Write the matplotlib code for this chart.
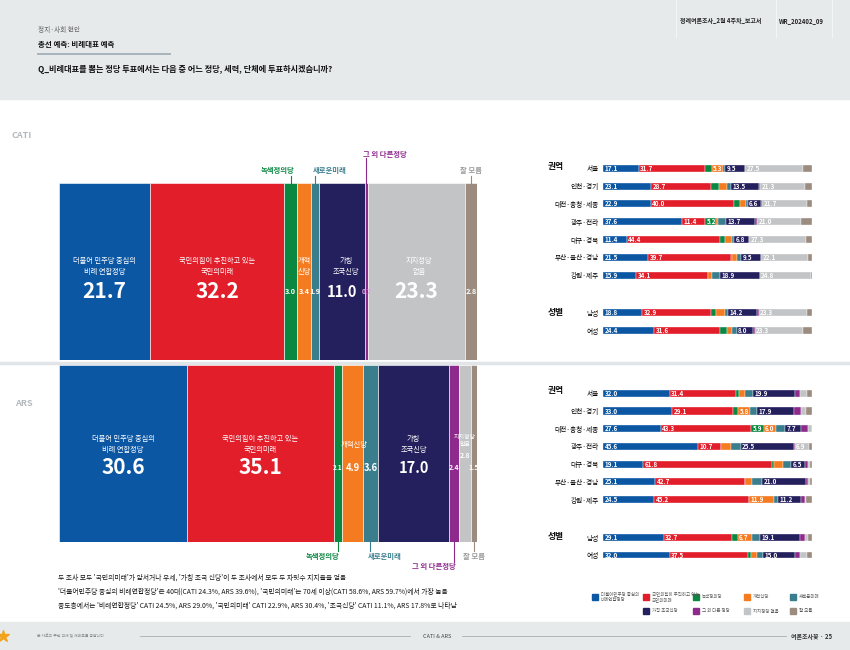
import matplotlib
matplotlib.use("Agg")
import matplotlib.pyplot as plt
import matplotlib.transforms as mtransforms
from matplotlib.patches import Rectangle
import numpy as np

plt.rcParams['font.family'] = ['Noto Sans CJK KR', 'DejaVu Sans']

# ---- data ----
parties = ["더불어민주당 중심의\n비례연합정당", "국민의힘이 추진하고 있는\n국민의미래", "녹색정의당", "개혁신당",
           "새로운미래", "가칭 조국신당", "그 외 다른 정당", "지지정당 없음", "잘 모름"]
colors = ["#0b57a4", "#e21e2b", "#0a8741", "#f47b20", "#3a7d8d", "#241f5d", "#8f2a8d", "#c2c4c6", "#9c8c7f"]

cati_total = [21.7, 32.2, 3.0, 3.4, 1.9, 11.0, 0.7, 23.3, 2.8]
ars_total = [30.6, 35.1, 2.1, 4.9, 3.6, 17.0, 2.4, 2.8, 1.5]

region_labels = ["서울", "인천·경기", "대전·충청·세종", "광주·전라", "대구·경북", "부산·울산·경남", "강원·제주"]
gender_labels = ["남성", "여성"]

cati_region = [
    [17.1, 31.7, 3.2, 5.3, 1.0, 9.5, 0.3, 27.5, 4.4],
    [23.1, 28.7, 3.8, 3.5, 2.0, 13.5, 0.7, 21.3, 3.4],
    [22.9, 40.0, 2.5, 3.0, 0.8, 6.6, 0.3, 21.7, 2.2],
    [37.6, 11.4, 5.2, 0.8, 4.0, 13.7, 1.1, 21.0, 5.2],
    [11.4, 44.4, 2.7, 3.3, 1.1, 6.8, 0.3, 27.3, 2.7],
    [21.5, 39.7, 0.3, 2.4, 2.1, 9.5, 0.3, 22.1, 2.1],
    [15.9, 34.1, 0.0, 2.0, 4.0, 18.9, 0.0, 24.8, 0.3],
]
cati_gender = [
    [18.8, 32.9, 2.5, 4.3, 1.2, 14.2, 0.6, 23.3, 2.2],
    [24.4, 31.6, 3.5, 2.1, 2.4, 8.0, 0.5, 23.3, 4.2],
]
ars_region = [
    [32.0, 31.4, 1.6, 2.9, 4.1, 19.9, 2.4, 3.5, 2.2],
    [33.0, 29.1, 2.6, 5.8, 3.0, 17.9, 3.5, 2.4, 2.7],
    [27.6, 43.3, 5.9, 6.0, 4.4, 7.7, 3.0, 2.1, 0.0],
    [45.6, 10.7, 0.3, 4.8, 4.4, 25.5, 0.4, 6.9, 1.4],
    [19.1, 61.8, 0.8, 4.2, 4.2, 6.5, 1.5, 0.8, 1.1],
    [25.1, 42.7, 0.2, 3.5, 4.5, 21.0, 1.2, 0.8, 1.0],
    [24.5, 45.2, 0.0, 11.9, 2.0, 11.2, 1.8, 0.5, 2.9],
]
ars_gender = [
    [29.1, 32.7, 2.6, 6.7, 3.9, 19.1, 2.4, 1.6, 1.9],
    [32.0, 37.5, 1.1, 2.9, 3.2, 15.0, 2.7, 3.4, 2.2],
]

notes = [
    "두 조사 모두 '국민의미래'가 앞서거나 우세, '가칭 조국 신당'이 두 조사에서 모두 두 자릿수 지지율을 얻음",
    "'더불어민주당 중심의 비례연합정당'은 40대(CATI 24.3%, ARS 39.6%), '국민의미래'는 70세 이상(CATI 58.6%, ARS 59.7%)에서 가장 높음",
    "중도층에서는 '비례연합정당' CATI 24.5%, ARS 29.0%, '국민의미래' CATI 22.9%, ARS 30.4%, '조국신당' CATI 11.1%, ARS 17.8%로 나타남",
]

W, H = 850, 650
fig = plt.figure(figsize=(W / 100, H / 100), dpi=100)
fig.patch.set_facecolor("white")

bg = fig.add_axes([0, 0, 1, 1])
bg.set_xlim(0, W)
bg.set_ylim(H, 0)
bg.axis("off")


def px_axes(x0, y0, x1, y1):
    return fig.add_axes([x0 / W, 1 - y1 / H, (x1 - x0) / W, (y1 - y0) / H])


# ---- header / footer decoration ----
bg.add_patch(Rectangle((0, 0), W, 99, color="#e7eaeb", zorder=0))
for xv in [676, 776, 832]:
    bg.plot([xv, xv], [0, 37], color="#f4f6f6", lw=0.8, zorder=1)
bg.text(680, 21, "정례여론조사_2월 4주차_보고서", fontsize=4.3, fontweight="bold", color="#222", va="center")
bg.text(779, 21, "WR_202402_09", fontsize=4.3, fontweight="bold", color="#222", va="center")
bg.text(38, 30, "정치·사회 현안", fontsize=4.8, color="#666", va="center")
bg.text(38, 44, "총선 예측: 비례대표 예측", fontsize=5.4, fontweight="bold", color="#111", va="center")
bg.plot([38, 170], [54, 54], color="#a8b4bb", lw=1.4)
bg.text(38, 69, "Q_비례대표를 뽑는 정당 투표에서는 다음 중 어느 정당, 세력, 단체에 투표하시겠습니까?",
        fontsize=5.9, fontweight="bold", color="#111", va="center")

bg.text(12, 136, "CATI", fontsize=6.5, fontweight="bold", color="#b3b9bd", va="center")
bg.text(15, 403, "ARS", fontsize=6.5, fontweight="bold", color="#b3b9bd", va="center")
bg.plot([0, W], [362.5, 362.5], color="#e1e5e7", lw=2.5, zorder=0)

bg.add_patch(Rectangle((0, 622), W, 28, color="#e7eaeb", zorder=0))
bg.plot([3], [636], marker="*", markersize=9, color="#f3a21c")
bg.text(37, 636, "본 자료의 무단 전재 및 재배포를 금합니다", fontsize=2.8, color="#888", va="center")
bg.plot([140, 410], [636, 636], color="#9aa3a8", lw=0.5)
bg.text(437, 636, "CATI & ARS", fontsize=4, color="#444", va="center", ha="center")
bg.plot([462, 786], [636, 636], color="#9aa3a8", lw=0.5)
bg.text(832, 636, "여론조사꽃 · 25", fontsize=4.3, fontweight="bold", color="#333", va="center", ha="right")

for i, line in enumerate(notes):
    bg.text(58, 578 + 14 * i, line, fontsize=4.9, color="#151515", va="center")


# ---- main stacked bars ----
def draw_total(y0, y1, values, labels, value_y, value_sizes, callouts, above):
    ax = px_axes(59, y0, 477, y1)
    left = np.concatenate([[0], np.cumsum(values)[:-1]])
    ax.barh([0] * len(values), values, left=left, height=1.0, color=colors,
            edgecolor="white", linewidth=0.4)
    ax.set_xlim(0, 100)
    ax.set_ylim(-0.5, 0.5)
    ax.axis("off")
    centers = left + np.array(values) / 2
    fy = lambda ypx: (y1 - ypx) / (y1 - y0)
    tr = mtransforms.blended_transform_factory(ax.transData, ax.transAxes)

    for i, v in enumerate(values):
        if labels[i]:
            txt, ly, fs, dx = labels[i]
            ax.text(centers[i] + dx, fy(ly), txt, transform=tr, color="white", fontsize=fs,
                    ha="center", va="center", linespacing=1.5)
        col = "white"
        if i == 6 and above:
            col = "#e39ee0"
        ax.text(centers[i], fy(value_y[i]), f"{v:.1f}", transform=tr, color=col,
                fontsize=value_sizes[i], fontweight="bold", ha="center", va="center")

    for idx, name, ha, dx, ty, ly in callouts:
        edge = 1.0 if above else 0.0
        ax.plot([centers[idx], centers[idx]], [edge, fy(ly)], transform=tr, color=colors[idx],
                lw=0.8, clip_on=False)
        tcol = "#9a9a9a" if idx == 8 else colors[idx]
        t = mtransforms.offset_copy(tr, fig=fig, x=dx, y=0, units="dots")
        ax.text(centers[idx], fy(ty), name, transform=t, color=tcol, fontsize=5.3,
                fontweight="bold", ha=ha, va="center", clip_on=False)
    return ax


cati_labels = [("더불어 민주당 중심의\n비례 연합정당", 266.5, 5.2, 0),
               ("국민의힘이 추진하고 있는\n국민의미래", 266.5, 5.2, 0),
               None, ("개혁\n신당", 266.5, 5.2, 0), None,
               ("가칭\n조국신당", 266.5, 5.2, 1), None,
               ("지지정당\n없음", 266.5, 5.2, 0.5), None]
draw_total(183, 360, cati_total, cati_labels, [292] * 9,
           [15, 15, 5.3, 5.3, 5.3, 10.5, 4.8, 15, 5.3],
           [(2, "녹색정의당", "right", 4, 170, 176),
            (4, "새로운미래", "left", -2, 170, 176),
            (6, "그 외 다른정당", "left", -3, 154, 158),
            (8, "잘 모름", "center", 0, 170, 176)], True)

ars_labels = [("더불어 민주당 중심의\n비례 연합정당", 444.5, 5.2, 0),
              ("국민의힘이 추진하고 있는\n국민의미래", 444.5, 5.2, 0),
              None, ("개혁신당", 445, 5.3, 0.3), None,
              ("가칭\n조국신당", 444.5, 5.2, 0), None,
              ("지지정당\n없음", 441, 4.3, 0), None]
draw_total(365, 542, ars_total, ars_labels,
           [468, 468, 468, 468, 468, 468, 468, 456, 468],
           [15, 15, 4.5, 6.8, 6.8, 10.5, 5, 5, 5],
           [(2, "녹색정의당", "right", 1, 557, 551),
            (4, "새로운미래", "left", -3, 557, 551),
            (6, "그 외 다른정당", "right", 2, 567, 562),
            (8, "잘 모름", "center", 0, 557, 551)], False)


# ---- breakdown bars ----
def draw_breakdown(y_first, spacing, labels, rows):
    n = len(rows)
    ax = px_axes(603, y_first - spacing / 2, 812, y_first + spacing * (n - 0.5))
    data = np.array(rows)
    left = np.zeros(n)
    ypos = np.arange(n)
    for j in range(data.shape[1]):
        ax.barh(ypos, data[:, j], left=left, height=0.4, color=colors[j],
                edgecolor="white", linewidth=0.25)
        for i, v in enumerate(data[:, j]):
            # only the named segments carry a number; "잘 모름" never does
            if v >= 5 and j < 8:
                ax.text(left[i] + 0.7, i, f"{v:.1f}", color="white", fontsize=4.5,
                        fontweight="bold", ha="left", va="center")
        left += data[:, j]
    ax.set_xlim(0, 100)
    ax.set_ylim(n - 0.5, -0.5)
    ax.set_yticks(ypos, labels)
    ax.set_xticks([])
    ax.tick_params(axis="y", length=0, pad=3, labelsize=4.8)
    for s in ax.spines.values():
        s.set_visible(False)
    ax.patch.set_alpha(0)
    return ax


draw_breakdown(168.3, 17.8, region_labels, cati_region)
draw_breakdown(312.7, 18.0, gender_labels, cati_gender)
draw_breakdown(393.3, 17.7, region_labels, ars_region)
draw_breakdown(537.7, 17.3, gender_labels, ars_gender)

for gy, name in [(166, "권역"), (312, "성별"), (391, "권역"), (536, "성별")]:
    bg.text(548, gy, name, fontsize=6.3, fontweight="bold", color="#111", va="center")

# ---- legend ----
legend_pos = [(592, 597), (643, 597), (693, 597), (744, 597), (790, 597),
              (643, 611), (693, 611), (744, 611), (790, 611)]
for (lx, ly), name, col in zip(legend_pos, parties, colors):
    bg.add_patch(Rectangle((lx, ly - 3), 6, 6, color=col))
    bg.text(lx + 9, ly, name, fontsize=3.2, color="#555", va="center", linespacing=1.2)

fig.savefig("out.png", dpi=100)
